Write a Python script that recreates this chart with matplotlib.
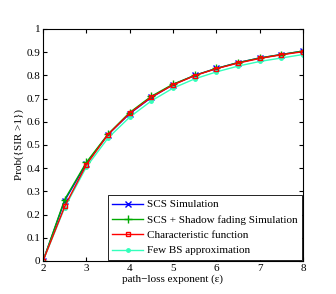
import numpy as np
import matplotlib.pyplot as plt

plt.rcParams['font.family'] = ['Liberation Serif', 'DejaVu Serif']

# path-loss exponent values
eps = [2, 2.5, 3, 3.5, 4, 4.5, 5, 5.5, 6, 6.5, 7, 7.5, 8]

scs_sim = [0, 0.26, 0.42, 0.545, 0.635, 0.705, 0.76, 0.80, 0.83, 0.855, 0.875, 0.89, 0.905]
shadow_sim = [0, 0.265, 0.425, 0.547, 0.64, 0.71, 0.762, 0.80, 0.83, 0.855, 0.875, 0.89, 0.905]
char_func = [0, 0.235, 0.415, 0.545, 0.637, 0.706, 0.759, 0.799, 0.829, 0.853, 0.873, 0.889, 0.902]
few_bs = [0, 0.23, 0.405, 0.53, 0.62, 0.69, 0.745, 0.785, 0.815, 0.84, 0.86, 0.875, 0.89]

fig = plt.figure(figsize=(3.36, 2.94), dpi=100)
ax = fig.add_axes([43 / 336, 1 - 261 / 294, 260 / 336, 232 / 294])

ax.plot(eps, scs_sim, color='#0000ff', marker='x', markersize=4, lw=1, label='SCS Simulation')
ax.plot(eps, shadow_sim, color='#00aa00', marker='+', markersize=6, lw=1,
        label='SCS + Shadow fading Simulation')
ax.plot(eps, few_bs, color='#33ffbb', marker='.', markersize=5, lw=1, label='Few BS approximation')
ax.plot(eps, char_func, color='#ff0000', marker='s', markersize=3, markerfacecolor='none',
        lw=1, label='Characteristic function')

ax.set_xlim(2, 8)
ax.set_ylim(0, 1)
ax.set_xticks(range(2, 9))
ax.set_yticks(np.arange(0, 1.01, 0.1))
ax.set_yticklabels(['0', '0.1', '0.2', '0.3', '0.4', '0.5', '0.6', '0.7', '0.8', '0.9', '1'])
ax.tick_params(direction='in', top=True, right=True, labelsize=8, length=3, pad=2)
ax.set_xlabel('path\u2212loss exponent (\u03b5)', fontsize=8, labelpad=1)
ax.set_ylabel('Prob({SIR >1})', fontsize=8, labelpad=2)

h, l = ax.get_legend_handles_labels()
order = [0, 1, 3, 2]
leg = ax.legend([h[i] for i in order], [l[i] for i in order], loc='lower right', fontsize=8,
                fancybox=False, edgecolor='black', framealpha=1, borderaxespad=0.1,
                handlelength=2.8, labelspacing=0.5, borderpad=0.4, handletextpad=0.3)
leg.get_frame().set_linewidth(0.6)

fig.savefig('out.png', dpi=100)
